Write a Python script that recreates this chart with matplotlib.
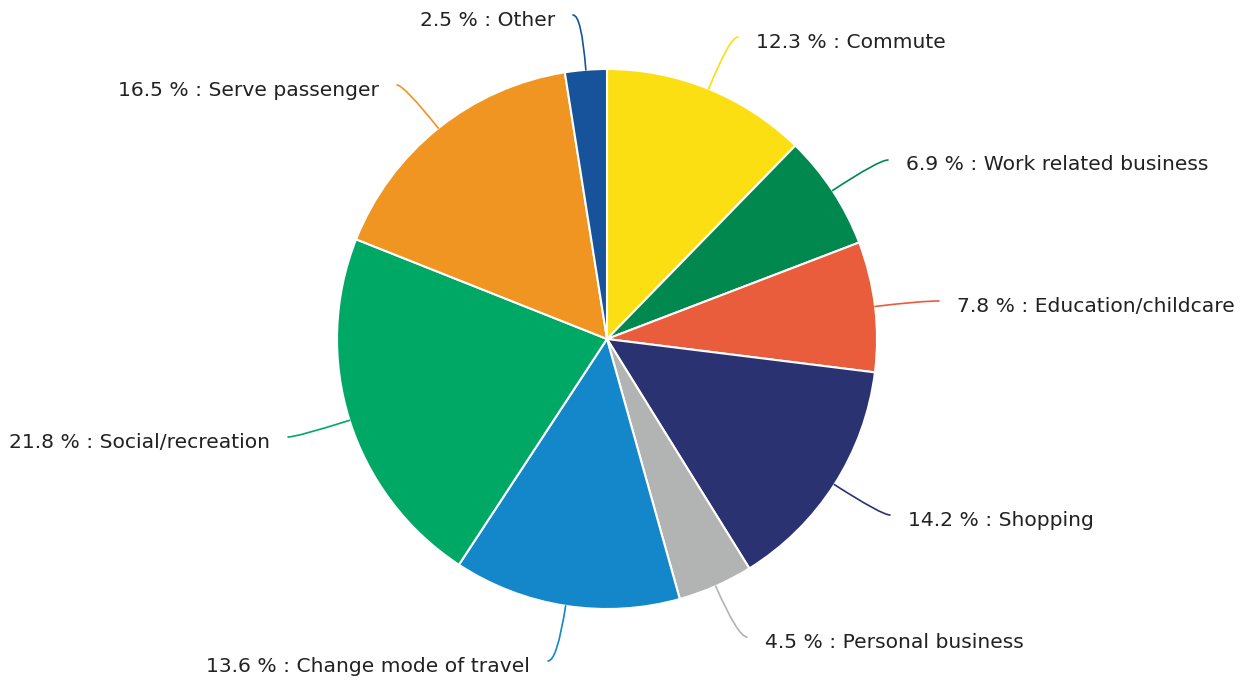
import matplotlib
matplotlib.use("Agg")
import matplotlib.pyplot as plt
import numpy as np
from matplotlib.path import Path
from matplotlib.patches import PathPatch

# ---- data ----
categories = ["Commute", "Work related business", "Education/childcare", "Shopping",
              "Personal business", "Change mode of travel", "Social/recreation",
              "Serve passenger", "Other"]
shares = [12.3, 6.9, 7.8, 14.2, 4.5, 13.6, 21.8, 16.5, 2.5]
colors = ["#FBDF12", "#00884F", "#E95C3C", "#2A3272", "#B1B4B2",
          "#1387C9", "#00A865", "#F09422", "#17539A"]

# ---- layout (pixel coordinates, origin top-left) ----
W, H = 1252, 680
CX, CY, R = 607, 339, 270
# connector end points near each label, and side (+1 right, -1 left)
label_ends = [(738, 37, 1), (888, 160, 1), (939, 301, 1), (890, 515, 1),
              (747, 637, 1), (548, 661, -1), (288, 437, -1), (397, 85, -1),
              (573, 15, -1)]

fig = plt.figure(figsize=(W / 100, H / 100), dpi=100)
ax = fig.add_axes([0, 0, 1, 1])

wedges, _ = ax.pie(shares, colors=colors, startangle=90, counterclock=False,
                   center=(CX, H - CY), radius=R,
                   wedgeprops=dict(edgecolor="white", linewidth=1.5))
ax.set_xlim(0, W)
ax.set_ylim(0, H)
ax.set_aspect("equal")
ax.axis("off")

for w, cat, val, col, (ex, ey, side) in zip(wedges, categories, shares, colors, label_ends):
    mid = np.deg2rad((w.theta1 + w.theta2) / 2)
    ux, uy = np.cos(mid), np.sin(mid)
    sx = CX + R * ux
    sy = (H - CY) + R * uy
    ey_d = H - ey
    # control point: where the radial direction meets the label's horizontal line
    if abs(uy) > 1e-3:
        t = (ey_d - sy) / uy
        t = max(t, 0)
    else:
        t = abs(ex - sx) / 2
    cx_ = sx + t * ux
    lo, hi = min(sx, ex), max(sx, ex)
    cx_ = min(max(cx_, lo), hi)
    cy_ = ey_d
    path = Path([(sx, sy), (cx_, cy_), (ex, ey_d)],
                [Path.MOVETO, Path.CURVE3, Path.CURVE3])
    ax.add_patch(PathPatch(path, facecolor="none", edgecolor=col, linewidth=1.2,
                           capstyle="round"))
    ax.text(ex + side * 18, ey_d - 5, f"{val} % : {cat}",
            ha="left" if side > 0 else "right", va="center",
            fontsize=14.6, color="#222222", family="DejaVu Sans")

fig.savefig("out.png", dpi=100, facecolor="white")
